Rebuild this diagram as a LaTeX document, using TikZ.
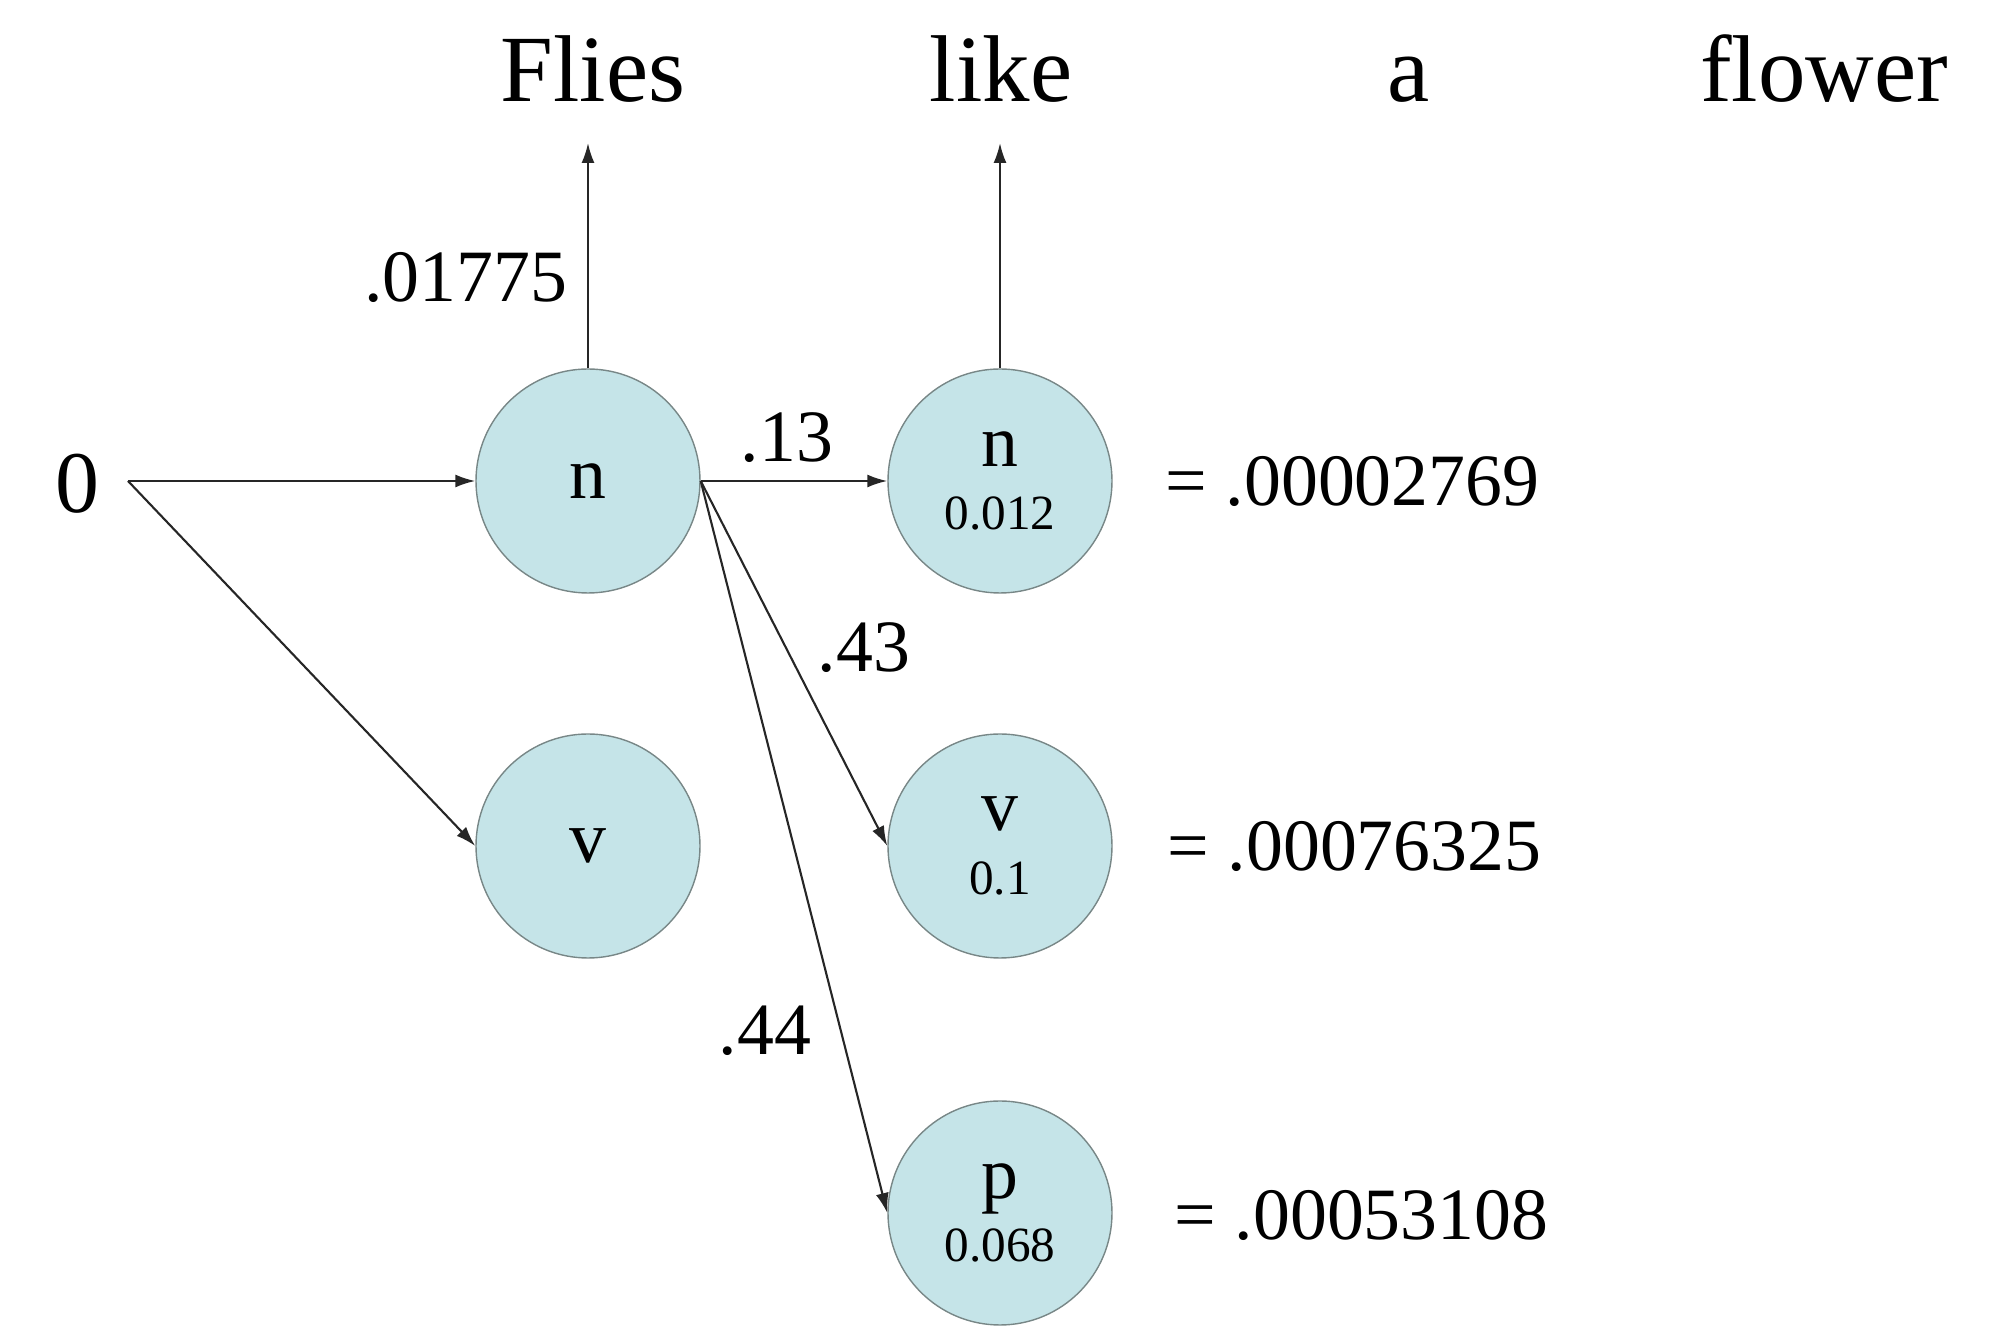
\documentclass[tikz,border=0pt]{standalone}
\usepackage{fontspec}
\setmainfont{Liberation Serif}
\usepackage{xcolor}
\usetikzlibrary{arrows.meta}
\definecolor{statefill}{RGB}{197,228,232}
\definecolor{stateline}{RGB}{120,135,135}

\begin{document}
\begin{tikzpicture}[x=0.1mm, y=-0.1mm,
main/.style = {draw=stateline, fill=statefill, circle, minimum size=22.4mm, inner sep=0pt, align=center, font=\fontsize{21}{22}\selectfont},
word/.style = {anchor=base, font=\fontsize{27}{30}\selectfont},
prob/.style = {anchor=base, inner sep=0pt, font=\fontsize{21}{24}\selectfont},
edge/.style = {draw=black!85, line width=0.6pt, -{Latex[length=2mm,width=1.3mm]}}]
\useasboundingbox (0,0) rectangle (2000,1336);

\node[word] (w1) at (593,102) {Flies};
\node[word] (w2) at (1001,102) {like};
\node[word] (w3) at (1409,102) {a};
\node[word] (w4) at (1824,102) {flower};

\node[anchor=base, font=\fontsize{25}{28}\selectfont] (0) at (77,513) {0};
\coordinate (s) at (128,481);

\node[main] (n1) at (588,481) {n};
\node[main] (v1) at (588,846) {v};
\node[main] (n2) at (1000,481) {n\\[-4pt]{\fontsize{14}{16}\selectfont 0.012}};
\node[main] (v2) at (1000,846) {v\\[-4pt]{\fontsize{14}{16}\selectfont 0.1}};
\node[main] (p2) at (1000,1213) {p\\[-4pt]{\fontsize{14}{16}\selectfont 0.068}};

\coordinate (e1) at (588,143);
\coordinate (e2) at (1000,143);

\draw[edge] (s) -- (n1);
\draw[edge] (s) -- (v1.west);
\draw[edge] (n1) -- (e1);
\draw[edge] (n2) -- (e2);
\draw[edge] (n1.east) -- (n2);
\draw[edge] (n1.east) -- (v2.west);
\draw[edge] (n1.east) -- (p2.west);

\node[prob] (l1) at (466,302) {.01775};
\node[prob] (l2) at (787,462) {.13};
\node[prob] (l3) at (864,672) {.43};
\node[prob] (l4) at (765,1055) {.44};

\node[prob, anchor=base west] (r1) at (1165,506) {= .00002769};
\node[prob, anchor=base west] (r2) at (1167,871) {= .00076325};
\node[prob, anchor=base west] (r3) at (1174,1240) {= .00053108};
\end{tikzpicture}
\end{document}
